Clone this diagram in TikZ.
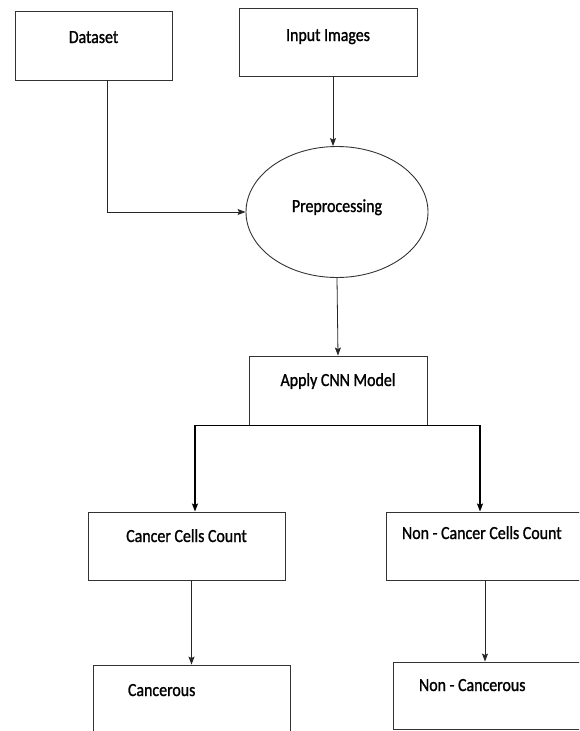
\documentclass[tikz,border=0pt]{standalone}
\usepackage{fontspec}
\setmainfont[FakeStretch=0.86, FakeBold=1.2]{Carlito}
\usetikzlibrary{shapes.geometric,arrows.meta,positioning}

\begin{document}
\begin{tikzpicture}[x=1pt, y=-1pt,
  font=\fontsize{18.5}{21}\selectfont,
  box/.style={rectangle, draw=black!80, line width=0.9pt, inner sep=0pt, minimum width=197pt},
  oval/.style={ellipse, draw=black!80, line width=0.9pt, inner sep=0pt, minimum width=182pt, minimum height=131pt, text height=6pt, text depth=6pt},
  arrow/.style={-{Stealth[length=8pt,width=6pt,inset=1.5pt]}, draw=black!85, line width=0.8pt},
  branch/.style={line width=1.6pt, draw=black}
]

\useasboundingbox (0,0) rectangle (579,731);
\clip (0,0) rectangle (579,731);

% Inputs
\node[box, minimum width=157pt, text height=32pt, text depth=37pt] (data) at (93.5,45.5) {Dataset};
\node[box, minimum width=178pt, text height=33pt, text depth=35pt] (input) at (328,42) {Input Images};

% Preprocessing
\node[oval] (prep) at (337,212) {Preprocessing};

% Model
\node[box, minimum width=178pt, text height=30pt, text depth=39pt] (cnn) at (338,390.5) {Apply CNN Model};

% Counts
\node[box, text height=30pt, text depth=38pt] (cancer) at (186.5,546) {Cancer Cells Count};
\node[box, text height=27pt, text depth=41pt, inner xsep=16pt] (noncancer) at (493,546) {\makebox[182pt][l]{Non - Cancer Cells Count}};

% Results
\node[box, text height=31pt, text depth=49pt, inner xsep=35pt] (cancerous) at (191.5,705) {\makebox[127pt][l]{Cancerous}};
\node[box, text height=29pt, text depth=38pt, inner xsep=26pt] (noncancerous) at (496.5,695.5) {\makebox[155pt][l]{Non - Cancerous}};

% Connections
\draw[arrow] ([xshift=13.5pt]data.south) |- (prep.west);
\draw[arrow] ([xshift=5pt]input.south) -- ([xshift=5pt]input.south |- prep.north);
\draw[arrow] (prep.south) -- (cnn.north);

\draw[arrow, branch] (cnn.south) -| ([xshift=8.5pt]cancer.north);
\draw[arrow, branch] (cnn.south) -| ([xshift=-13pt]noncancer.north);

\draw[arrow] (cancer.south -| cancerous.north) -- (cancerous.north);
\draw[arrow] ([xshift=-8pt]noncancer.south) -- ([xshift=-8pt]noncancer.south |- noncancerous.north);

\end{tikzpicture}
\end{document}
